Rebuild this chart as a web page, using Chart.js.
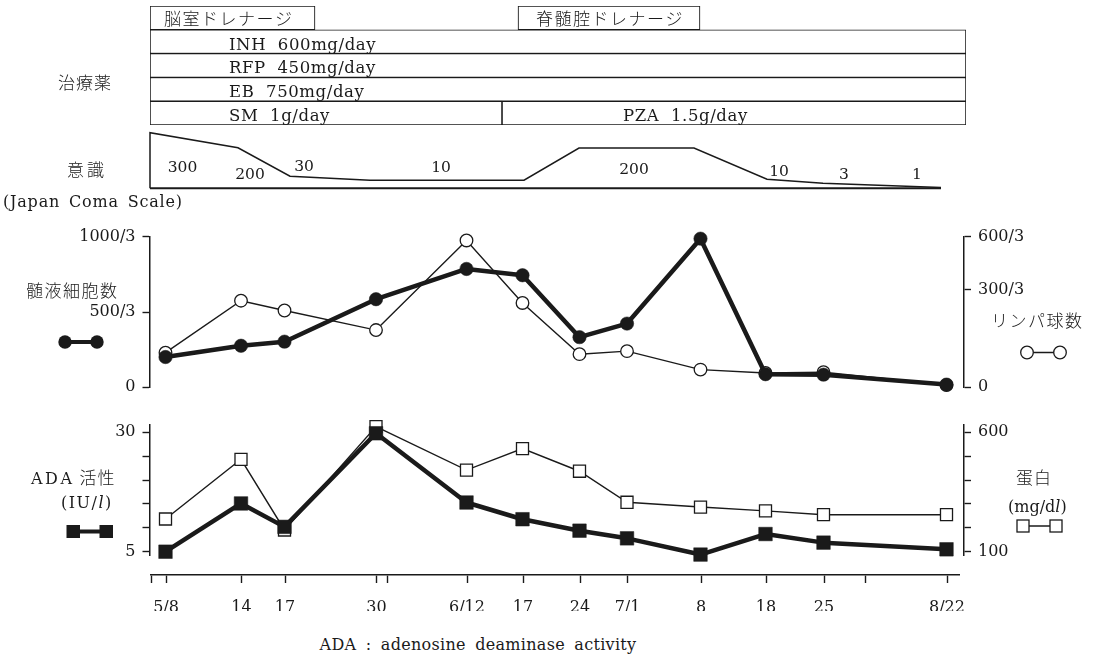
<!DOCTYPE html>
<html>
<head>
<meta charset="utf-8">
<script src="https://cdn.jsdelivr.net/npm/chart.js@4.4.1/dist/chart.umd.min.js"></script>
<style>
html,body{margin:0;padding:0;background:#fff;}
#wrap{position:relative;width:1093px;height:656px;overflow:hidden;background:#fff;}
canvas{position:absolute;left:0;}
.t{position:absolute;white-space:nowrap;font-family:"DejaVu Serif","Noto Sans CJK JP",serif;font-size:16px;color:#1a1a1a;line-height:20px;height:20px;}
.jp{font-family:"Noto Sans CJK JP",sans-serif;font-weight:300;font-size:17px;}
svg{position:absolute;left:0;top:0;}
</style>
</head>
<body>
<div id="wrap">
<canvas id="cT" width="1093" height="130" style="top:0"></canvas>
<canvas id="cC" width="1093" height="66" style="top:126px"></canvas>
<canvas id="cU" width="1093" height="190" style="top:215px"></canvas>
<canvas id="cL" width="1093" height="170" style="top:405px"></canvas>
<canvas id="cX" width="1093" height="70" style="top:560px"></canvas>

<div class="t jp" style="left:58px;top:72px;letter-spacing:1px;">治療薬</div>
<div class="t jp" style="left:67px;top:159px;letter-spacing:3px;">意識</div>
<div class="t" style="left:3px;top:192px;font-size:16px;letter-spacing:0.8px;word-spacing:3px;">(Japan Coma Scale)</div>
<div class="t jp" style="left:26px;top:280px;letter-spacing:1.5px;">髄液細胞数</div>
<div class="t jp" style="left:991px;top:310px;letter-spacing:1.5px;">リンパ球数</div>
<div class="t" style="left:31px;top:467px;"><span style="letter-spacing:2.5px;">ADA</span> <span class="jp" style="letter-spacing:1px;">活性</span></div>
<div class="t" style="left:61px;top:493px;letter-spacing:1.5px;">(IU/<i>l</i>)</div>
<div class="t jp" style="left:1016px;top:467px;letter-spacing:1px;">蛋白</div>
<div class="t" style="left:1008px;top:497px;">(mg/d<i>l</i>)</div>
<div class="t" style="left:478px;top:635px;transform:translateX(-50%);word-spacing:4px;letter-spacing:0.3px;">ADA : adenosine deaminase activity</div>

<svg width="1093" height="656">
  <line x1="65" y1="342" x2="97" y2="342" stroke="#1a1a1a" stroke-width="4"/>
  <circle cx="65" cy="342" r="6.7" fill="#1a1a1a"/>
  <circle cx="97" cy="342" r="6.7" fill="#1a1a1a"/>
  <line x1="1027" y1="352.5" x2="1060" y2="352.5" stroke="#1a1a1a" stroke-width="1.4"/>
  <circle cx="1027" cy="352.5" r="6.3" fill="#fff" stroke="#1a1a1a" stroke-width="1.3"/>
  <circle cx="1060" cy="352.5" r="6.3" fill="#fff" stroke="#1a1a1a" stroke-width="1.3"/>
  <line x1="73" y1="531.5" x2="106" y2="531.5" stroke="#1a1a1a" stroke-width="4"/>
  <rect x="66.5" y="525" width="13.5" height="13" fill="#1a1a1a"/>
  <rect x="99.5" y="525" width="13.5" height="13" fill="#1a1a1a"/>
  <line x1="1023" y1="526" x2="1056" y2="526" stroke="#1a1a1a" stroke-width="1.4"/>
  <rect x="1017" y="520" width="12" height="12" fill="#fff" stroke="#1a1a1a" stroke-width="1.3"/>
  <rect x="1050" y="520" width="12" height="12" fill="#fff" stroke="#1a1a1a" stroke-width="1.3"/>
</svg>
</div>
<script>
// ---------------- data ----------------
// dates on the (non-uniform) hand-drawn time axis; positions are in axis units
const dateLabels = ['5/8','14','17','30','6/12','17','24','7/1','8','18','25','8/22'];
const datePos    = [16, 91.5, 135, 226.5, 317, 373, 430, 477.5, 551, 616, 674, 797];
const minorTickPos = [1, 237.5, 715];              // unlabeled month ticks (5/1, 6/1, 8/1)

// upper panel
const cellCount  = [67, 92, 101, 195, 262, 248, 111, 141, 329, 29, 28, 6];      // 髄液細胞数 (/3)
const lymphCount = [46, 115, 102, 76, 195, 112, 44, 48, 23.5, 19, 20, 3];        // リンパ球数 (/3)
const cellTickVals = [0, 500/3, 1000/3];
const cellTickLabels = ['0', '500/3', '1000/3'];
const lymphTickVals = [0, 130, 200];
const lymphTickLabels = ['0', '300/3', '600/3'];

// lower panel
const adaActivity = [5.0, 15.1, 10.2, 29.8, 15.3, 11.8, 9.4, 7.8, 4.4, 8.7, 6.9, 5.5];  // IU/l
const protein     = [237, 487, 191, 624, 442, 532, 437, 307, 287, 271, 255, 255];    // mg/dl
const adaTickVals = [5, 10, 15, 20, 25, 30];
const adaTickLabels = ['5', '', '', '', '', '30'];
const protTickVals = [100, 200, 300, 400, 500, 600];
const protTickLabels = ['100', '', '', '', '', '600'];

// treatment rows
const treatRows   = ['drain', 'INH', 'RFP', 'EB', 'SM/PZA'];
const treatSpanA  = [[0, 165], [0, 816], [0, 816], [0, 816], [0, 352]];
const treatSpanB  = [[368, 550], null, null, null, [352, 816]];
const treatTextA  = ['脳室ドレナージ', 'INH  600mg/day', 'RFP  450mg/day', 'EB  750mg/day', 'SM  1g/day'];
const treatTextB  = ['脊髄腔ドレナージ', null, null, null, 'PZA  1.5g/day'];
const treatTextAX = [14, 79, 79, 79, 79];
const treatTextBX = [386, null, null, null, 473];

// consciousness (Japan Coma Scale) profile
const jcsX     = [0, 0, 88, 140, 220, 374, 429, 544, 617, 673, 791];
const jcsLevel = [0, 55.3, 40.3, 12, 8, 8, 40, 40, 9, 5, 0.8];
const jcsText      = ['300', '200', '30', '10', '200', '10', '3', '1'];
const jcsTextX     = [32.5, 100, 154, 291, 484, 629, 694, 767];
const jcsTextLevel = [20, 13, 21, 20, 18, 16.5, 13, 13];

// ---------------- chart setup ----------------
const ink = '#1a1a1a';
const serif = '"DejaVu Serif", "Noto Sans CJK JP", serif';
Chart.defaults.font.family = serif;
Chart.defaults.font.size = 16;
Chart.defaults.color = ink;
Chart.defaults.animation = false;
Chart.defaults.responsive = false;
Chart.defaults.maintainAspectRatio = false;
Chart.defaults.events = [];
Chart.defaults.plugins.legend.display = false;
Chart.defaults.plugins.tooltip.enabled = false;

const fixW = w => s => { s.width = w; };
const setTicks = vals => s => { s.ticks = vals.map(v => ({ value: v })); };
const pts = ys => datePos.map((x, i) => ({ x, y: ys[i] }));

function yAxis(pos, min, max, vals, labels) {
  return {
    position: pos, min, max,
    afterFit: fixW(80),
    afterBuildTicks: setTicks(vals),
    ticks: { autoSkip: false, padding: 7, callback: (v, i) => labels[i], font: { size: 16 } },
    grid: { drawOnChartArea: false, tickLength: 7, tickWidth: 1.4, tickColor: ink },
    border: { display: true, color: ink, width: 1.5 }
  };
}

// treatments
const treatTextPlugin = {
  id: 'treatText',
  afterDatasetsDraw(chart) {
    const ctx = chart.ctx, xs = chart.scales.x;
    const texts = [treatTextA, treatTextB], xsPos = [treatTextAX, treatTextBX];
    ctx.save();
    ctx.fillStyle = ink;
    ctx.textAlign = 'left';
    chart.data.datasets.forEach((ds, d) => {
      chart.getDatasetMeta(d).data.forEach((bar, i) => {
        const txt = texts[d][i];
        if (!txt) return;
        const x = xs.getPixelForValue(xsPos[d][i]);
        if (i === 0) {
          ctx.font = '300 17px "Noto Sans CJK JP", sans-serif';
          ctx.letterSpacing = '1.5px';
          ctx.textBaseline = 'middle';
          ctx.fillText(txt, x, bar.y + 1);
        } else {
          ctx.font = '16.5px ' + serif;
          ctx.letterSpacing = '0.6px';
          ctx.textBaseline = 'alphabetic';
          ctx.fillText(txt, x, bar.y + bar.height / 2 - 4);
        }
      });
    });
    ctx.restore();
  }
};
const barStyle = { backgroundColor: '#fff', borderColor: ink, borderWidth: 1.1, borderSkipped: false,
  grouped: false, barPercentage: 1, categoryPercentage: 1 };
new Chart(document.getElementById('cT'), {
  type: 'bar',
  data: { labels: treatRows, datasets: [
    Object.assign({ data: treatSpanA }, barStyle),
    Object.assign({ data: treatSpanB }, barStyle)
  ] },
  options: {
    indexAxis: 'y',
    layout: { padding: { left: 150, right: 127, top: 6, bottom: 5 } },
    scales: { x: { type: 'linear', min: 0, max: 816, display: false }, y: { display: false } }
  },
  plugins: [treatTextPlugin]
});

// consciousness
const jcsTextPlugin = {
  id: 'jcsText',
  afterDatasetsDraw(chart) {
    const ctx = chart.ctx, xs = chart.scales.x, ys = chart.scales.y;
    ctx.save();
    ctx.fillStyle = ink;
    ctx.font = '15.5px ' + serif;
    ctx.textAlign = 'center';
    ctx.textBaseline = 'middle';
    jcsText.forEach((t, i) => ctx.fillText(t, xs.getPixelForValue(jcsTextX[i]), ys.getPixelForValue(jcsTextLevel[i])));
    ctx.restore();
  }
};
new Chart(document.getElementById('cC'), {
  type: 'line',
  data: { datasets: [
    { data: jcsX.map((x, i) => ({ x, y: jcsLevel[i] })), borderColor: ink, borderWidth: 1.5, pointRadius: 0, clip: false },
    { data: [{ x: jcsX[0], y: 0 }, { x: jcsX[jcsX.length - 1], y: 0 }], borderColor: ink, borderWidth: 2, pointRadius: 0, clip: false }
  ] },
  options: {
    layout: { padding: { left: 150, right: 127, top: 2, bottom: 3.7 } },
    scales: { x: { type: 'linear', min: 0, max: 816, display: false }, y: { min: 0, max: 60, display: false } }
  },
  plugins: [jcsTextPlugin]
});

// upper panel: CSF cell count & lymphocytes
new Chart(document.getElementById('cU'), {
  type: 'line',
  data: { datasets: [
    { label: '髄液細胞数', data: pts(cellCount), yAxisID: 'y', borderColor: ink, borderWidth: 4.5,
      borderJoinStyle: 'round', pointRadius: 6.7, pointBackgroundColor: ink, pointBorderColor: ink, pointBorderWidth: 0.5, clip: false },
    { label: 'リンパ球数', data: pts(lymphCount), yAxisID: 'y2', borderColor: ink, borderWidth: 1.4,
      pointRadius: 6.3, pointBackgroundColor: '#fff', pointBorderColor: ink, pointBorderWidth: 1.3, clip: false }
  ] },
  options: {
    layout: { padding: { left: 69.5, right: 49, top: 21.7, bottom: 17.7 } },
    scales: {
      x: { type: 'linear', min: 0, max: 814.5, display: false },
      y: yAxis('left', 0, 1000 / 3, cellTickVals, cellTickLabels),
      y2: yAxis('right', 0, 200, lymphTickVals, lymphTickLabels)
    }
  }
});

// lower panel: ADA & protein
new Chart(document.getElementById('cL'), {
  type: 'line',
  data: { datasets: [
    { label: 'ADA', data: pts(adaActivity), yAxisID: 'y', borderColor: ink, borderWidth: 4.5,
      borderJoinStyle: 'round', pointStyle: 'rect', pointRadius: 9.6, pointBackgroundColor: ink, pointBorderColor: ink, pointBorderWidth: 0.5, clip: false },
    { label: '蛋白', data: pts(protein), yAxisID: 'y2', borderColor: ink, borderWidth: 1.4,
      pointStyle: 'rect', pointRadius: 8.5, pointBackgroundColor: '#fff', pointBorderColor: ink, pointBorderWidth: 1.3, clip: false }
  ] },
  options: {
    layout: { padding: { left: 69.5, right: 49, top: 20, bottom: 20 } },
    scales: {
      x: { type: 'linear', min: 0, max: 814.5, display: false },
      y: yAxis('left', 4.31, 31.53, adaTickVals, adaTickLabels),
      y2: yAxis('right', 86.2, 630.6, protTickVals, protTickLabels)
    }
  }
});

// time axis
const axisTicks = datePos.concat(minorTickPos).sort((a, b) => a - b);
new Chart(document.getElementById('cX'), {
  type: 'scatter',
  data: { datasets: [] },
  options: {
    layout: { padding: { left: 151, right: 133.5, top: 10, bottom: 19 } },
    scales: {
      x: { type: 'linear', min: 1, max: 809.5,
        afterBuildTicks: setTicks(axisTicks),
        afterFit: s => { s.height = 36; },
        ticks: { autoSkip: false, maxRotation: 0, padding: 15,
          callback: v => { const k = datePos.indexOf(v); return k >= 0 ? dateLabels[k] : ''; } },
        grid: { drawOnChartArea: false, tickLength: 8, tickWidth: 1.4, tickColor: ink },
        border: { display: true, color: ink, width: 1.6 } },
      y: { display: false }
    }
  }
});
</script>
</body>
</html>
